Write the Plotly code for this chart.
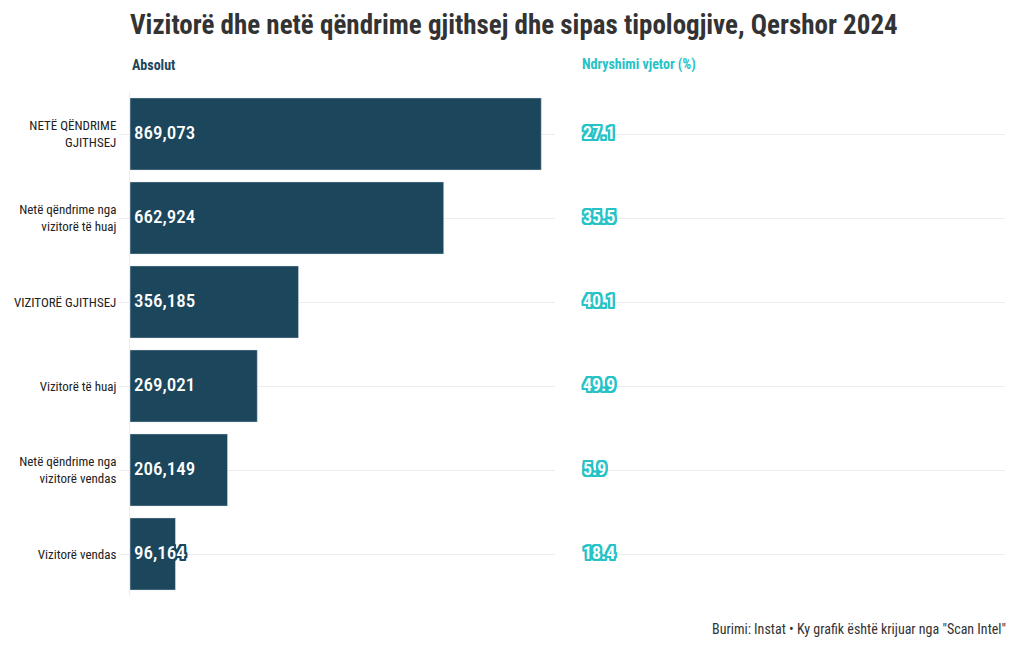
import plotly.graph_objects as go

categories = ["NETË QËNDRIME<br>GJITHSEJ", "Netë qëndrime nga<br>vizitorë të huaj", "VIZITORË GJITHSEJ",
              "Vizitorë të huaj", "Netë qëndrime nga<br>vizitorë vendas", "Vizitorë vendas"]
absolute = [869073, 662924, 356185, 269021, 206149, 96164]
yoy_change = [27.1, 35.5, 40.1, 49.9, 5.9, 18.4]

FONT = "Roboto Condensed, Liberation Sans Narrow, Roboto, sans-serif"
DARK = "#1b465b"
CYAN = "#25c3c8"

W, H = 1020, 650
L, R, T, B = 130, 15, 92, 54
pw = W - L - R
ph = H - T - B

def px2paper(x):
    return (x - L) / pw

def py2paper(y):
    return (H - B - y) / ph

left_end = px2paper(555)
right_start = px2paper(583)
X_MAX = 898000
label_pad = X_MAX * 4 / (555 - 130)  # ~4px gap from axis

def stroke(c):
    return ",".join(f"{dx}px {dy}px 0 {c}" for dx in (-2, -1, 0, 1, 2) for dy in (-2, -1, 0, 1, 2) if (dx, dy) != (0, 0))

fig = go.Figure()
fig.add_trace(go.Bar(x=absolute, y=categories, orientation="h", marker_color=DARK,
                     width=0.86, hoverinfo="skip", xaxis="x", yaxis="y"))
fig.add_trace(go.Scatter(x=[label_pad] * len(categories), y=categories, mode="text",
                         text=[f"{v:,}" for v in absolute], textposition="middle right",
                         textfont=dict(family=FONT, size=19, color="white", weight=500, shadow=stroke(DARK)),
                         hoverinfo="skip", xaxis="x", yaxis="y", cliponaxis=False))
fig.add_trace(go.Scatter(x=[0] * len(categories), y=categories, mode="text",
                         text=[f"{v:.1f}" for v in yoy_change], textposition="middle right",
                         textfont=dict(family=FONT, size=18, color="white", weight=600, shadow=stroke(CYAN)),
                         hoverinfo="skip", xaxis="x2", yaxis="y2", cliponaxis=False))

fig.update_layout(
    width=W, height=H, margin=dict(l=L, r=R, t=T, b=B),
    paper_bgcolor="white", plot_bgcolor="white", showlegend=False,
    font=dict(family=FONT, color="#222"),
    xaxis=dict(domain=[0, left_end], range=[0, X_MAX], showgrid=False, showticklabels=False,
               zeroline=False, fixedrange=True, automargin=False),
    yaxis=dict(domain=[0, 1], categoryorder="array", categoryarray=categories, range=[5.5, -0.5],
               showgrid=True, gridcolor="#ececec", gridwidth=1, ticks="outside", ticklen=10,
               tickcolor="#ececec", showline=True, linecolor="#ececec", automargin=False,
               tickfont=dict(family=FONT, size=13, color="#222"), zeroline=False),
    xaxis2=dict(domain=[right_start, 1], range=[0, 1], showgrid=False, showticklabels=False,
                zeroline=False, anchor="y2", automargin=False),
    yaxis2=dict(domain=[0, 1], anchor="x2", categoryorder="array", categoryarray=categories,
                range=[5.5, -0.5], showgrid=True, gridcolor="#ececec", showticklabels=False,
                zeroline=False, automargin=False),
    title=dict(text="<b>Vizitorë dhe netë qëndrime gjithsej dhe sipas tipologjive, Qershor 2024</b>",
               x=L / W, xanchor="left", y=1 - 25 / H, yanchor="middle",
               font=dict(family=FONT, size=27, color="#333")),
)
fig.add_annotation(text="<b>Absolut</b>", xref="paper", yref="paper", x=0, y=py2paper(65),
                   xanchor="left", yanchor="middle", showarrow=False,
                   font=dict(family=FONT, size=14, color=DARK))
fig.add_annotation(text="<b>Ndryshimi vjetor (%)</b>", xref="paper", yref="paper", x=px2paper(580),
                   y=py2paper(65), xanchor="left", yanchor="middle", showarrow=False,
                   font=dict(family=FONT, size=14, color=CYAN))
fig.add_annotation(text='Burimi: Instat • Ky grafik është krijuar nga "Scan Intel"', xref="paper", yref="paper",
                   x=px2paper(1008), y=py2paper(629), xanchor="right", yanchor="middle",
                   showarrow=False, font=dict(family=FONT, size=14, color="#333"))

fig.write_html("out.html", config={"displayModeBar": False},
               post_script="document.body.style.margin='0px';document.body.style.overflow='hidden';")
